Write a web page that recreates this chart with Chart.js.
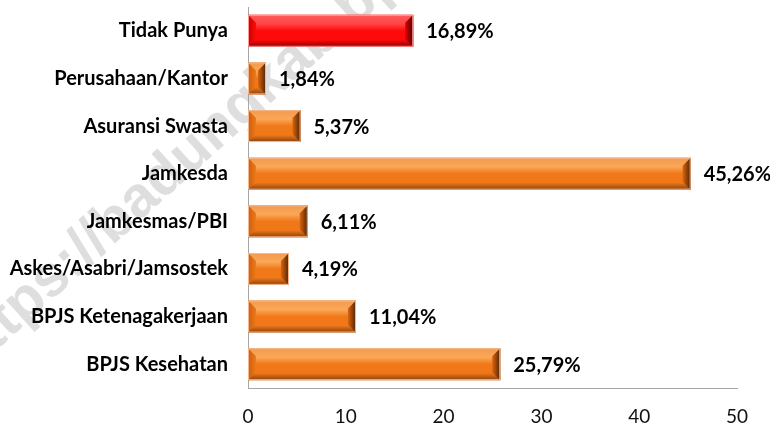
<!DOCTYPE html>
<html>
<head>
<meta charset="utf-8">
<script src="https://cdn.jsdelivr.net/npm/chart.js@4.4.1/dist/chart.umd.min.js"></script>
<style>
  html, body { margin: 0; padding: 0; background: #fff; }
  #wrap { width: 770px; height: 425px; position: relative; }
</style>
</head>
<body>
<div id="wrap"><canvas id="chart"></canvas></div>
<script>
// data
const categories = ['Tidak Punya', 'Perusahaan/Kantor', 'Asuransi Swasta', 'Jamkesda',
  'Jamkesmas/PBI', 'Askes/Asabri/Jamsostek', 'BPJS Ketenagakerjaan', 'BPJS Kesehatan'];
const percentages = [16.89, 1.84, 5.37, 45.26, 6.11, 4.19, 11.04, 25.79];
const xTicks = [0, 10, 20, 30, 40, 50];
const watermarkText = 'https://badungkab.bps.go.id';

// bevel palettes (first bar is red, rest orange)
const orange = { edge: '#f6b98e', top: '#f29a4e', light: '#fba758', base: '#f07818', low: '#d9650f', dark: '#8a4210', end: '#4f2406', left: '#c85e10' };
const red = { edge: '#ff9a9a', top: '#ff5a5a', light: '#ff4444', base: '#ff0a0a', low: '#e00000', dark: '#8c0000', end: '#4a0000', left: '#c80000' };
const palette = i => (i === 0 ? red : orange);

const labelFont = "'Lato', sans-serif";

function poly(ctx, pts, fill) {
  ctx.beginPath();
  ctx.moveTo(pts[0][0], pts[0][1]);
  for (let i = 1; i < pts.length; i++) ctx.lineTo(pts[i][0], pts[i][1]);
  ctx.closePath();
  ctx.fillStyle = fill;
  ctx.fill();
}

// draw a bevelled bar over the plain one
function bevel(ctx, x0, x1, y0, y1, p) {
  const w = x1 - x0, h = y1 - y0;
  const b = Math.min(8, w / 2, h / 2);
  let g = ctx.createLinearGradient(0, y0, 0, y1);
  g.addColorStop(0, p.top);
  g.addColorStop(0.28, p.light);
  g.addColorStop(0.5, p.base);
  g.addColorStop(0.78, p.base);
  g.addColorStop(1, p.dark);
  ctx.fillStyle = g;
  ctx.fillRect(x0, y0, w, h);

  // left end
  g = ctx.createLinearGradient(x0, 0, x0 + b, 0);
  g.addColorStop(0, p.left);
  g.addColorStop(1, p.base);
  poly(ctx, [[x0, y0], [x0 + b, y0 + b], [x0 + b, y1 - b], [x0, y1]], g);

  // right end
  g = ctx.createLinearGradient(x1 - b, 0, x1, 0);
  g.addColorStop(0, p.low);
  g.addColorStop(1, p.end);
  poly(ctx, [[x1, y0], [x1 - b, y0 + b], [x1 - b, y1 - b], [x1, y1]], g);

  ctx.strokeStyle = p.edge;
  ctx.lineWidth = 1;
  ctx.strokeRect(x0 + 0.5, y0 + 0.5, w - 1, h - 1);
}

const bevelPlugin = {
  id: 'bevel',
  afterDatasetsDraw(chart) {
    const ctx = chart.ctx;
    const meta = chart.getDatasetMeta(0);
    ctx.save();
    meta.data.forEach((bar, i) => {
      const { x, y, base, height } = bar.getProps(['x', 'y', 'base', 'height'], true);
      bevel(ctx, base, x, y - height / 2, y + height / 2, palette(i));
      // value label
      ctx.fillStyle = '#000';
      ctx.font = "bold 20px " + labelFont;
      ctx.textAlign = 'left';
      ctx.textBaseline = 'middle';
      ctx.fillText(percentages[i].toFixed(2).replace('.', ',') + '%', x + 13, y + 1);
    });
    ctx.restore();
  }
};

const watermarkPlugin = {
  id: 'watermark',
  beforeDraw(chart) {
    const ctx = chart.ctx;
    ctx.save();
    ctx.font = "bold 58px 'Liberation Sans', sans-serif";
    const pre = ctx.measureText('https://').width;
    ctx.translate(112, 246);
    ctx.rotate(-42 * Math.PI / 180);
    ctx.fillStyle = 'rgba(200,200,200,0.6)';
    ctx.textBaseline = 'alphabetic';
    ctx.fillText(watermarkText, -pre, 0);
    ctx.restore();
  }
};

new Chart(document.getElementById('chart'), {
  type: 'bar',
  data: {
    labels: categories,
    datasets: [{
      data: percentages,
      backgroundColor: percentages.map((v, i) => palette(i).base),
      borderWidth: 0,
      categoryPercentage: 1,
      barPercentage: 0.67
    }]
  },
  options: {
    indexAxis: 'y',
    responsive: true,
    maintainAspectRatio: false,
    animation: false,
    layout: { padding: { top: 7, right: 33, left: 0, bottom: 0 } },
    plugins: { legend: { display: false }, tooltip: { enabled: false } },
    scales: {
      x: {
        min: 0, max: 50,
        afterBuildTicks: s => { s.ticks = xTicks.map(v => ({ value: v })); },
        afterFit: s => { s.height = 37; },
        grid: { display: false, drawTicks: false },
        border: { display: true, color: '#a6a6a6', width: 1 },
        ticks: { padding: 17, color: '#111', font: { family: labelFont, size: 19 } }
      },
      y: {
        afterFit: s => { s.width = 248; s.paddingTop = 0; s.paddingBottom = 0; },
        grid: { display: false, drawTicks: false },
        border: { display: true, color: '#a6a6a6', width: 1 },
        ticks: { padding: 20, color: '#000', font: { family: labelFont, size: 20, weight: 'bold' } }
      }
    }
  },
  plugins: [watermarkPlugin, bevelPlugin]
});
</script>
</body>
</html>
